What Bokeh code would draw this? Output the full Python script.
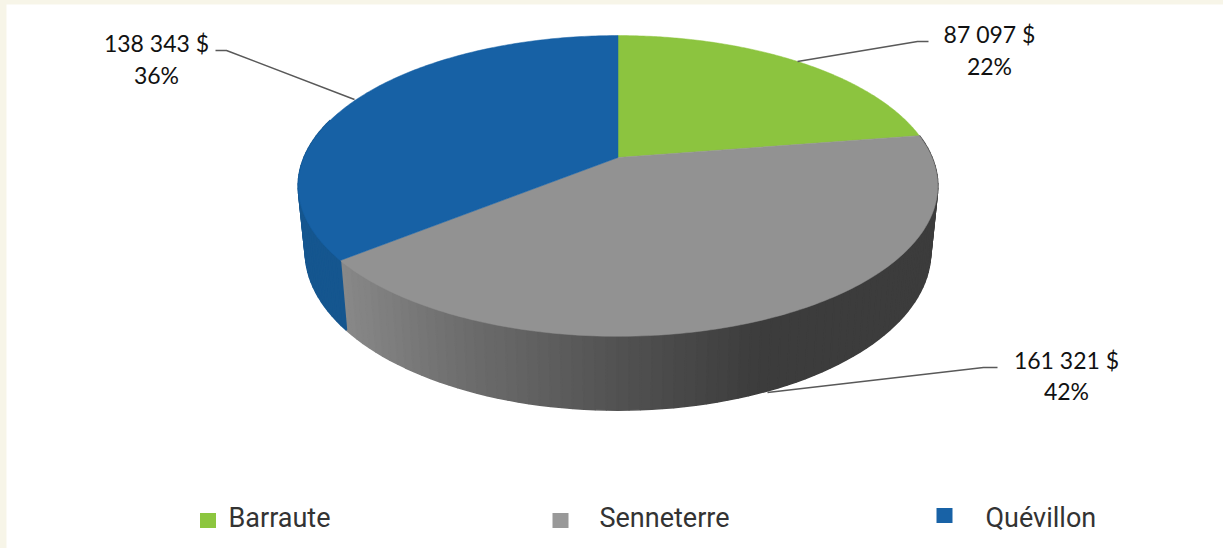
import numpy as np
from bokeh.plotting import figure
from bokeh.models import Range1d
from bokeh.core.properties import value
from bokeh.embed import file_html
from bokeh.resources import INLINE

categories = ["Barraute", "Senneterre", "Quévillon"]
amounts = [87097, 161321, 138343]
amount_labels = ["87 097 $", "161 321 $", "138 343 $"]
percent_labels = ["22%", "42%", "36%"]
top_colors = ["#8CC43F", "#929292", "#1761A5"]

# layout of the tilted pie, in page pixels
CX, APEX_Y, RX, RY, K = 617.5, 157.0, 314.0, 145.0, 0.189
BASE_SCALE, BASE_Y, BASE_RY = 0.978, 221.0, 153.0


def top_xy(t):
    a, b = np.sin(t), np.cos(t)
    w = 1 + K * b
    return CX + RX * a / w, APEX_Y - RY * b / w


def base_xy(t):
    a, b = np.sin(t), np.cos(t)
    w = 1 + K * b
    return CX + BASE_SCALE * RX * a / w, BASE_Y - BASE_RY * b / w


p = figure(width=1217, height=544, output_backend="svg", toolbar_location=None,
           x_range=Range1d(6, 1223), y_range=Range1d(548, 4),
           min_border=0, outline_line_color=None, margin=(4, 0, 0, 6))
p.axis.visible = False
p.grid.visible = False
p.background_fill_color = "#ffffff"

fractions = np.array(amounts) / sum(amounts)
edges = np.concatenate([[0], np.cumsum(fractions)]) * 2 * np.pi


def gray_shade(x):
    g = np.interp(x, [345, 450, 600, 765], [0x88, 0x70, 0x55, 0x3C])
    return "#%02x%02x%02x" % (int(g), int(g), int(g))


def blue_shade(x):
    return "#15568F"


# side walls: the visible part of Senneterre and Quévillon
wall_x, wall_y, wall_c = [], [], []
steps = [(edges[2], edges[1], gray_shade), (edges[2], edges[2] + 0.95, blue_shade)]
for t0, t1, shade in steps:
    ts = np.linspace(t0, t1, int(abs(t1 - t0) / 0.03) + 2)
    for u, v in zip(ts[:-1], ts[1:]):
        xu, yu = top_xy(u)
        xv, yv = top_xy(v)
        bxu, byu = base_xy(u)
        bxv, byv = base_xy(v)
        wall_x.append([xu, xv, bxv, bxu])
        wall_y.append([yu, yv, byv, byu])
        wall_c.append(shade((xu + xv) / 2))
p.patches(wall_x, wall_y, fill_color=wall_c, line_color=wall_c, line_width=1.6)

# top face
for i, c in enumerate(top_colors):
    ts = np.linspace(edges[i], edges[i + 1], 160)
    x, y = top_xy(ts)
    p.patch(np.r_[CX, x], np.r_[APEX_Y, y], fill_color=c, line_color=c, line_width=0.5)

# leader lines
leader_x = [[797, 917, 928], [767, 983, 997], [354, 226, 215]]
leader_y = [[61, 41, 41], [392, 367, 367], [99, 50, 50]]
p.multi_line(leader_x, leader_y, line_color="#595959", line_width=1.5)

# data labels
label_x = [989, 1066, 156]
label_y1 = [33, 359, 42]
label_y2 = [65, 390, 74]
lfont = value("Lato")
p.text(label_x, label_y1, text=amount_labels, text_font=lfont, text_font_size="23px",
       text_color="#111111", text_align="center", text_baseline="middle")
p.text(label_x, label_y2, text=percent_labels, text_font=lfont, text_font_size="23px",
       text_color="#111111", text_align="center", text_baseline="middle")

# legend
sq_x = [207.5, 560, 944]
sq_y = [520, 520, 515]
legend_x = [228, 599, 985]
p.rect(sq_x, sq_y, width=16, height=15, fill_color=["#8CC63F", "#999999", "#1862A6"], line_color=None)
p.text(legend_x, [517, 517, 517], text=categories, text_font=value("Roboto"),
       text_font_size="27px", text_color="#333333",
       text_align="left", text_baseline="middle")

html = file_html(p, INLINE).replace("<head>", "<head><style>html,body{background:#F7F5E8;overflow:hidden}</style>", 1)
open("out.html", "w").write(html)
